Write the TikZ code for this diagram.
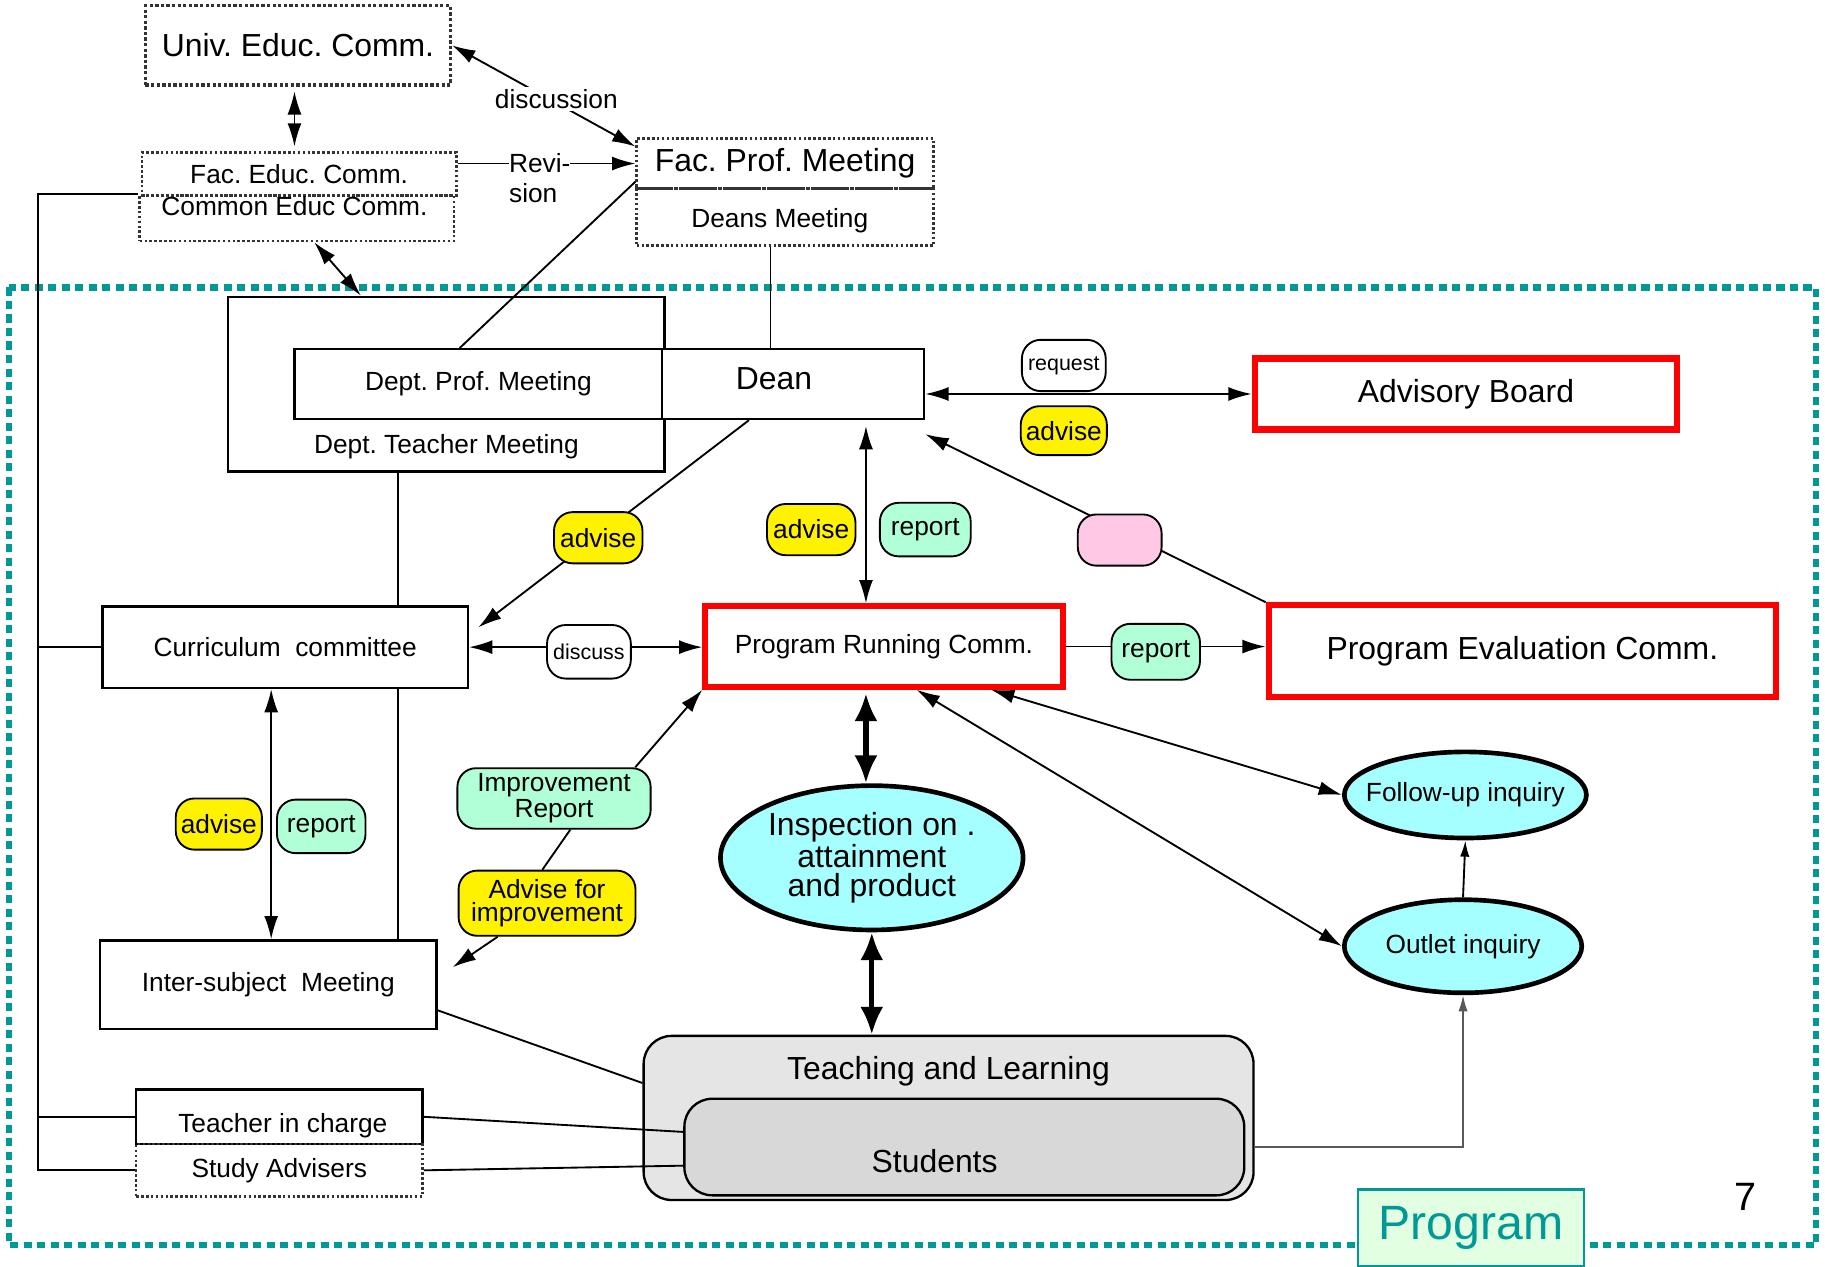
\documentclass[tikz,border=0pt]{standalone}
\usepackage{fontspec}
\setmainfont{Liberation Sans}
\usepackage{tikz}
\usetikzlibrary{positioning,shapes.geometric,arrows.meta}
\frenchspacing

\definecolor{frameteal}{RGB}{0,153,150}
\definecolor{mint}{RGB}{176,255,214}
\definecolor{pinkish}{RGB}{255,200,228}
\definecolor{skyfill}{RGB}{166,255,255}
\definecolor{tlgray}{RGB}{229,229,229}
\definecolor{stugray}{RGB}{216,216,216}
\definecolor{progfill}{RGB}{226,255,226}

\newcommand{\fbig}{\fontsize{13.7}{15}\selectfont}
\newcommand{\fmid}{\fontsize{11.3}{13}\selectfont}
\newcommand{\fsml}{\fontsize{9.2}{10}\selectfont}

\begin{document}
\begin{tikzpicture}[x=0.5pt, y=-0.5pt,
      >={Latex[length=10pt,width=6pt]},
      every node/.style={inner sep=0pt},
      box/.style={draw, line width=1pt, font=\fmid},
      dotbox/.style={draw=black!80, densely dotted, line width=1.1pt, font=\fmid},
      redbox/.style={draw=red, line width=2.6pt, font=\fbig},
      tag/.style={draw, rounded corners=8pt, line width=0.8pt, font=\fmid,
                  minimum width=38pt, minimum height=22pt},
      inq/.style={ellipse, draw, line width=2pt, fill=skyfill, font=\fmid},
      link/.style={line width=0.8pt},
      fatlink/.style={line width=2.2pt, >={Latex[length=12pt,width=10pt]}, <->}
    ]
    
    \fill[white] (0,0) rectangle (1568,1088);
    \useasboundingbox (0,0) rectangle (1568,1088);
    
    % dotted frame of the program
    \draw[frameteal, line width=2.6pt, dash pattern=on 3.5pt off 2.3pt] (8,247) rectangle (1560,1070);
    
    % faculty level
    \node[dotbox, line width=1.4pt, minimum width=131pt, minimum height=34pt, font=\fbig] (univ) at (256,39) {Univ. Educ. Comm.};
    \node[dotbox, minimum width=135pt, minimum height=18.5pt] (facedu) at (257,149.5) {Fac. Educ. Comm.};
    \node[dotbox, minimum width=135pt, minimum height=19.5pt] (comedu) at (255,187.5) {};
    \node[font=\fmid] (comtext) at (253,177) {Common Educ Comm.};
    \node[dotbox, minimum width=127.5pt, minimum height=21.5pt, font=\fbig] (fpm) at (674.5,140.5) {Fac. Prof. Meeting};
    \node[dotbox, minimum width=127.5pt, minimum height=24.5pt] (deans) at (674.5,186.5) {};
    \node[font=\fmid] (deanstext) at (670,190) {Deans Meeting};
    
    % department level
    \node[box, minimum width=187.5pt, minimum height=75pt] (dtm) at (383.5,330) {};
    \node[font=\fmid, above=5.5pt of dtm.south] (dtmtext) {Dept. Teacher Meeting};
    \node[box, fill=white, minimum width=158pt, minimum height=30pt] (dpm) at (411,330) {Dept. Prof. Meeting};
    \node[box, fill=white, minimum width=112.5pt, minimum height=30pt] (dean) at (681.5,330) {};
    \node[font=\fbig] (deantext) at (665,325) {Dean};
    
    % committees
    \node[redbox, minimum width=181.5pt, minimum height=30.5pt] (adv) at (1259.5,338.5) {Advisory Board};
    \node[redbox, minimum width=153.5pt, minimum height=34.5pt, font=\fmid] (prc) at (759.5,555.5) {Program Running Comm.};
    \node[redbox, minimum width=218pt, minimum height=39.5pt] (pec) at (1308,559.5) {Program Evaluation Comm.};
    \node[box, minimum width=157pt, minimum height=35pt] (curr) at (245,556) {Curriculum~ committee};
    \node[box, minimum width=144.5pt, minimum height=38pt] (isub) at (230.5,846) {Inter-subject~ Meeting};
    \node[box, minimum width=123pt, minimum height=23.5pt] (tic) at (240,959.5) {};
    \node[font=\fmid] (tictext) at (243,967) {Teacher in charge};
    \node[dotbox, minimum width=123pt, minimum height=22.5pt] (sadv) at (240,1005.5) {Study Advisers};
    
    % teaching and students
    \node[draw, line width=1pt, fill=tlgray, rounded corners=12pt, minimum width=262pt, minimum height=70.5pt] (tl) at (815,960.5) {};
    \node[font=\fbig, below=9pt of tl.north] (tltext) {Teaching and Learning};
    \node[draw, line width=1pt, fill=stugray, rounded corners=12pt, minimum width=240.5pt, minimum height=41.5pt] (stu) at (828.5,985.5) {};
    \node[font=\fbig] (stutext) at (803,998) {Students};
    
    % inquiries
    \node[inq, minimum width=130pt, minimum height=62pt, align=center, font=\fontsize{13.7}{12.3}\selectfont] (insp) at (749,737) {Inspection on .\\attainment\\and product};
    \node[inq, minimum width=104pt, minimum height=37pt] (fup) at (1259,683) {\makebox[0pt]{Follow-up inquiry}};
    \node[inq, minimum width=102pt, minimum height=40pt] (out) at (1257,813) {\makebox[0pt]{Outlet inquiry}};
    
    \node[draw=frameteal, fill=progfill, line width=1pt, minimum width=97pt, minimum height=33pt, text=frameteal, font=\fontsize{20.7}{22}\selectfont] (prog) at (1264,1055) {Program};
    \node[font=\fontsize{17}{18}\selectfont] (pgno) at (1500,1028) {7};
    
    \node[tag, fill=mint, minimum width=83pt, minimum height=26pt, align=center, font=\fontsize{11.3}{9.6}\selectfont] (irep) at (476,686) {Improvement\\Report};
    \node[tag, fill=yellow, minimum width=76pt, minimum height=28pt, align=center, font=\fontsize{11.3}{10.2}\selectfont] (afi) at (470,776) {Advise for\\improvement};
    
    % connectors
    \coordinate (ux) at (253,0);
    \coordinate (dmx) at (662,0);
    \coordinate (bus) at (33,0);
    \coordinate (vx) at (342,0);
    \coordinate (dx) at (744,0);
    \coordinate (cx) at (233,0);
    
    \draw[link, <->, shorten <=2pt, shorten >=2pt] (ux |- univ.south) -- (ux |- facedu.north);
    \draw[link, <->] (univ.east) -- ([yshift=-4pt]fpm.north west);
    \draw[link, ->] (fpm.west -| facedu.east) -- (fpm.west);
    \draw[link] ([yshift=3.5pt]fpm.south west) -- ([xshift=-8pt]dpm.north);
    \draw[link] (dmx |- deans.south) -- (dmx |- dean.north);
    \draw[link, <->] (comedu.-54) -- (dtm.134);
    
    \draw[link] (comedu.north west) -| (bus |- sadv.west) -- (sadv.west);
    \draw[link] (bus |- curr.west) -- (curr.west);
    \draw[link] (bus |- tic.west) -- (tic.west);
    \draw[link] (vx |- dtm.south) -- (vx |- curr.north);
    \draw[link] (vx |- curr.south) -- (vx |- isub.north);
    
    \draw[link, ->] ([xshift=-19pt]dean.south) -- ([xshift=4pt,yshift=-9.5pt]curr.north east);
    \draw[link, <->, shorten <=2.5pt] (dx |- dean.south) -- (dx |- prc.north);
    \draw[link, <->] (adv.west -| dean.east) -- (adv.west);
    \draw[link, ->] (pec.north west) -- ([yshift=-6pt]dean.south east);
    \draw[link, <->] (curr.east) -- (curr.east -| prc.west);
    \draw[link, ->] (prc.east) -- (prc.east -| pec.west);
    \draw[fatlink, shorten <=1.5pt] (dx |- prc.south) -- (dx |- insp.north);
    \draw[fatlink] (insp.south) -- (insp.south |- tl.north);
    \draw[link, <->] ([xshift=46pt]prc.south) -- (fup.west);
    \draw[link, <->] ([xshift=14pt]prc.south) -- (out.west);
    \draw[link, ->, >={Latex[length=7pt,width=4pt]}] (out.north) -- (fup.south);
    \draw[link, ->, gray!70!black, >={Latex[length=7pt,width=4pt]}] (tl.east |- stu.east) -| (out.south);
    \draw[link, ->] ([xshift=-7pt]irep.north east) -- (prc.south west);
    \draw[link] ([xshift=7pt]irep.south) -- ([xshift=-2pt]afi.north);
    \draw[link, ->] (afi) -- ([xshift=6.5pt,yshift=-12pt]isub.north east);
    \draw[link, <->] (cx |- curr.south) -- (cx |- isub.north);
    \draw[link] ([yshift=-11pt]isub.east) -- ([yshift=15pt]tl.west);
    \draw[link] (tic.east) -- ([yshift=6.5pt]stu.west);
    \draw[link] (sadv.east) -- ([yshift=-8pt]stu.west);
    
    % labels on the connectors
    \node[fill=white, font=\fmid, inner sep=1pt] (disc) at (478,85) {discussion};
    \node[fill=white, font=\fmid, align=left, anchor=west] (rev) at (437,153) {Revi-\\sion};
    \node[tag, fill=white, minimum width=36pt, font=\fsml] (req) at (914,314) {request};
    \node[tag, fill=yellow, minimum width=37pt, minimum height=21pt] (advab) at (914,370) {advise};
    \node[tag, fill=yellow] (advdp) at (697,455) {advise};
    \node[tag, fill=mint, minimum width=39pt, minimum height=23pt] (repdp) at (795,455) {report};
    \node[tag, fill=yellow] (advdc) at (514,462) {advise};
    \node[tag, fill=pinkish, minimum width=36pt] (pinktag) at (962,464) {};
    \node[tag, fill=white, minimum width=36pt, minimum height=23pt, font=\fsml] (dsc) at (506,560) {discuss};
    \node[tag, fill=mint, minimum height=24pt] (repre) at (993,560) {report};
    \node[tag, fill=yellow, minimum width=37pt] (advci) at (188,708) {advise};
    \node[tag, fill=mint, minimum height=23pt] (repci) at (276,710) {report};
    
\end{tikzpicture}
\end{document}
